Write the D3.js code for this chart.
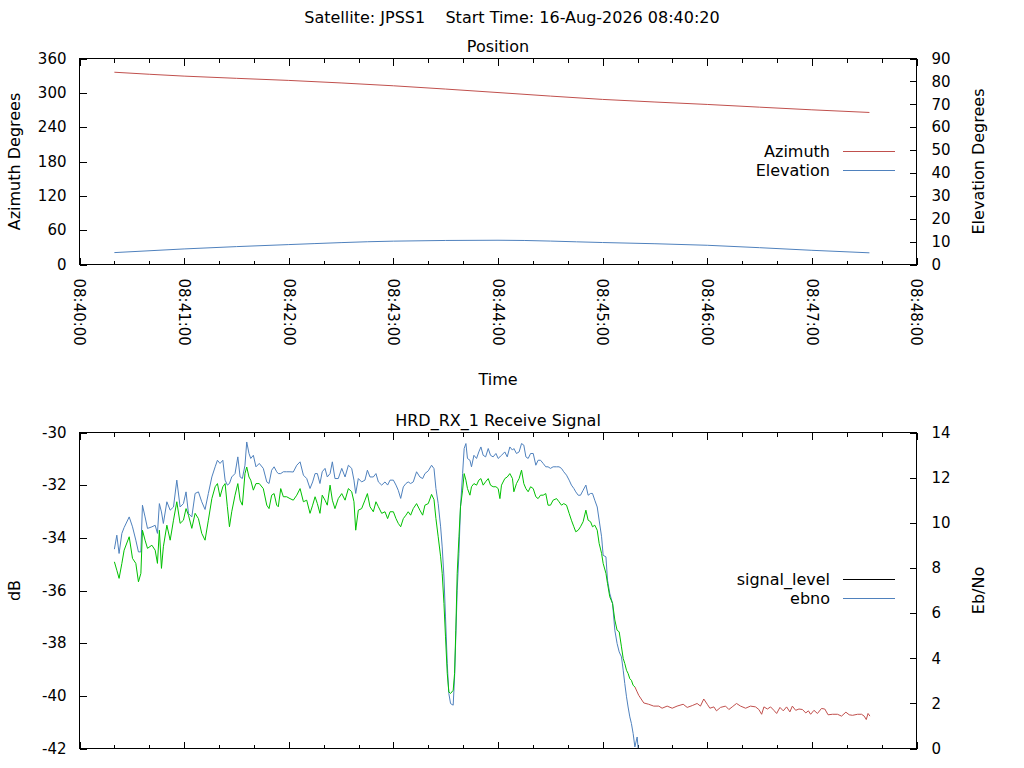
<!DOCTYPE html>
<html>
<head>
<meta charset="utf-8">
<script src="https://cdn.jsdelivr.net/npm/d3@7"></script>
<style>
  body { margin: 0; background: #fff; }
  svg { display: block; }
  text { font-family: "DejaVu Sans", sans-serif; font-size: 16px; fill: #000; }
  .axis path.domain { display: none; }
  .axis line { stroke: #000; shape-rendering: crispEdges; }
</style>
</head>
<body>
<div id="chart"></div>
<script>

// pass info
const satellite = "JPSS1";
const startLabel = "16-Aug-2026 08:40:20";
const axisStart = new Date(2026, 7, 16, 8, 40, 0);
const axisEnd = new Date(2026, 7, 16, 8, 48, 0);

// position plot, seconds after 08:40:00
const posSec = [20, 60, 120, 180, 240, 300, 360, 420, 453];
const azimuthDeg = [336, 329.2, 321.7, 312.3, 300.5, 288.5, 279.7, 270.3, 265.7];
const elevationDeg = [5.2, 6.8, 8.7, 10.2, 10.6, 9.6, 8.4, 6.2, 5.1];

// receive signal, seconds after 08:40:00
const rxSec = [
  20, 21.4, 22.7, 24.3, 25.6, 28.5, 30.4, 32.3, 33.8, 35.2,
  36.1, 37.6, 39.0, 41.5, 43.4, 44.7, 45.8, 47.0, 48.1, 50.1,
  52.0, 53.9, 55.8, 57.7, 59.6, 61.1, 62.5, 64.4, 66.3, 68.2,
  70.1, 72.0, 73.9, 75.9, 77.8, 79.1, 80.6, 82.2, 83.5, 84.8,
  86.0, 87.3, 89.2, 90.8, 92.1, 93.4, 94.9, 95.9, 97.2, 98.2,
  99.7, 101.2, 103.1, 105.4, 107.4, 108.7, 110.2, 111.6, 113.1, 114.0,
  115.4, 116.9, 118.8, 120.7, 122.6, 124.6, 126.5, 128.4, 130.3, 132.2,
  133.7, 135.1, 136.4, 137.9, 139.2, 140.8, 142.1, 143.7, 145.0, 146.5,
  148.4, 150.4, 152.3, 154.2, 156.1, 157.4, 158.4, 159.9, 161.8, 163.7,
  165.1, 166.6, 168.5, 170.0, 171.4, 173.3, 175.2, 176.7, 178.1, 180.0,
  181.5, 182.8, 184.2, 185.7, 187.2, 188.5, 189.9, 191.4, 193.3, 195.2,
  196.8, 198.1, 200.0, 201.9, 203.3, 204.4, 205.7, 207.1, 208.0, 209.0,
  209.9, 210.9, 211.8, 212.8, 214.3, 215.1, 215.8, 216.6, 217.6, 218.5,
  219.7, 220.6, 221.6, 222.5, 223.9, 224.8, 226.2, 227.7, 229.0, 230.2,
  231.5, 232.9, 234.4, 235.7, 237.2, 238.8, 240.1, 241.1, 242.0, 243.9,
  245.3, 246.8, 248.3, 249.1, 250.6, 252.1, 253.5, 254.8, 256.0, 257.3,
  258.7, 260.2, 261.7, 263.0, 264.4, 265.9, 267.4, 268.7, 270.1, 271.6,
  273.6, 275.0, 276.4, 277.7, 279.3, 280.8, 282.1, 283.5, 284.6, 286.0,
  287.3, 288.8, 290.4, 291.7, 293.1, 294.2, 295.5, 296.9, 298.0, 299.4,
  300.3, 301.9, 302.8, 304.1, 305.7, 307.0, 308.3, 309.5, 310.8, 311.8,
  312.7, 313.7, 314.6, 315.6, 316.5, 317.5, 318.5, 319.8, 320.7,
  323.6, 326.4, 329.3, 332.2, 334.1, 337.0, 339.9, 342.7, 346.2, 348.5,
  351.4, 354.2, 356.1, 358.0, 360.0, 361.5, 363.8, 365.3, 367.6, 370.5,
  372.4, 374.3, 376.8, 379.1, 382.0, 384.8, 387.7, 389.6, 391.2, 392.5,
  394.5, 396.3, 398.2, 399.8, 401.7, 403.6, 405.5, 407.4, 408.8, 410.7,
  412.6, 414.6, 416.5, 418.0, 419.3, 421.2, 423.2, 425.5, 427.4, 429.3,
  431.8, 434.7, 437.0, 439.5, 441.4, 443.3, 446.2, 448.5, 450.0, 451.2,
  452.2, 453.3
];
const signalDb = [
  -34.91, -35.23, -35.54, -34.97, -34.47, -33.96, -34.78, -34.97, -35.67, -35.35,
  -33.71, -34.09, -34.40, -34.28, -34.47, -34.97, -33.71, -35.16, -34.34, -33.52,
  -34.09, -33.33, -32.63, -33.45, -33.33, -32.89, -33.14, -33.64, -33.07, -33.27,
  -33.83, -34.09, -33.33, -32.51, -32.06, -31.94, -32.44, -32.06, -31.94, -32.82,
  -33.58, -33.01, -32.38, -31.94, -32.57, -32.76, -31.56, -31.31, -31.69, -31.81,
  -32.19, -31.94, -31.94, -32.13, -32.76, -32.89, -32.38, -32.32, -32.76, -32.82,
  -32.13, -32.44, -32.44, -32.51, -32.57, -32.38, -32.13, -32.63, -32.57, -33.07,
  -32.76, -32.44, -32.70, -33.07, -32.38, -32.57, -32.76, -32.00, -32.57, -32.89,
  -32.51, -32.32, -32.57, -32.13, -32.25, -32.63, -33.71, -32.95, -32.89, -32.57,
  -32.32, -32.82, -33.01, -32.63, -32.82, -33.07, -33.01, -33.27, -33.01, -33.01,
  -33.27, -33.45, -33.58, -33.27, -33.14, -33.01, -33.14, -32.89, -32.70, -32.95,
  -33.14, -32.76, -32.70, -32.35, -32.55, -33.27, -33.96, -34.72, -35.35, -36.49,
  -37.76, -39.15, -39.85, -39.91, -39.79, -39.15, -37.51, -35.35, -33.96, -32.82,
  -32.19, -31.56, -31.81, -32.13, -32.38, -32.06, -31.94, -32.00, -31.81, -31.75,
  -32.00, -31.87, -31.75, -32.00, -32.06, -32.06, -32.13, -32.51, -32.00, -31.75,
  -31.69, -31.56, -31.75, -32.25, -31.94, -31.75, -31.43, -31.94, -32.13, -32.25,
  -32.06, -32.13, -32.44, -32.51, -32.38, -32.38, -32.32, -32.76, -32.76, -32.57,
  -32.51, -32.63, -32.76, -32.70, -32.76, -33.07, -33.33, -33.58, -33.77, -33.71,
  -33.58, -33.39, -32.95, -33.33, -33.39, -33.58, -33.52, -33.71, -34.21, -34.59,
  -34.97, -35.35, -35.73, -36.24, -36.49, -37.12, -37.51, -37.57, -38.14, -38.58,
  -38.77, -39.03, -39.15, -39.35, -39.41, -39.60, -39.66, -39.85, -39.98,
  -40.27, -40.32, -40.39, -40.39, -40.47, -40.39, -40.47, -40.39, -40.32, -40.44,
  -40.37, -40.29, -40.39, -40.12, -40.32, -40.47, -40.42, -40.57, -40.44, -40.39,
  -40.52, -40.42, -40.29, -40.39, -40.47, -40.39, -40.42, -40.52, -40.70, -40.42,
  -40.50, -40.42, -40.55, -40.67, -40.44, -40.57, -40.42, -40.61, -40.39, -40.55,
  -40.50, -40.52, -40.65, -40.57, -40.70, -40.55, -40.67, -40.48, -40.50, -40.72,
  -40.70, -40.70, -40.77, -40.62, -40.72, -40.74, -40.70, -40.70, -40.77, -40.90,
  -40.67, -40.77
];
// ebno only exists while the receiver is locked (first part of rxSec)
const ebno = [
  8.83, 9.45, 8.64, 9.53, 9.79, 10.26, 9.82, 9.23, 8.71, 8.71,
  10.78, 10.26, 9.75, 9.82, 9.89, 9.53, 10.85, 10.48, 9.97, 10.93,
  10.56, 10.70, 11.89, 10.70, 10.85, 11.37, 10.41, 10.26, 11.30, 11.37,
  10.93, 10.59, 11.30, 12.03, 12.48, 12.77, 12.63, 12.77, 11.89, 11.67,
  11.74, 12.03, 12.18, 12.92, 12.03, 11.96, 12.55, 13.58, 13.07, 12.85,
  12.99, 12.48, 12.63, 12.41, 11.81, 11.74, 12.33, 12.48, 12.26, 12.18,
  12.18, 12.26, 12.26, 12.26, 12.25, 12.55, 12.70, 12.11, 11.96, 11.52,
  11.81, 12.18, 12.18, 11.74, 12.26, 12.41, 12.03, 12.18, 12.70, 11.96,
  11.96, 12.41, 12.03, 12.55, 12.41, 11.89, 11.30, 11.96, 11.81, 11.89,
  12.33, 12.03, 12.03, 12.18, 11.81, 11.67, 11.81, 11.67, 11.89, 11.89,
  11.67, 11.44, 11.08, 11.59, 11.74, 11.81, 11.74, 11.81, 12.26, 12.03,
  11.96, 12.18, 12.30, 12.55, 12.40, 11.52, 10.85, 9.82, 8.93, 7.60,
  5.83, 3.77, 2.44, 1.99, 1.92, 3.17, 4.94, 7.01, 8.64, 10.70,
  12.18, 13.29, 13.51, 12.85, 12.77, 12.48, 12.99, 12.85, 13.14, 13.36,
  12.99, 12.92, 13.29, 12.99, 12.92, 13.07, 12.85, 12.92, 12.99, 13.14,
  12.92, 13.36, 13.22, 13.29, 13.07, 13.14, 13.51, 13.44, 12.92, 12.85,
  13.07, 13.07, 12.55, 12.77, 12.77, 12.63, 12.48, 12.48, 12.41, 12.48,
  12.48, 12.48, 12.41, 12.26, 12.11, 11.89, 11.67, 11.52, 11.37, 11.22,
  11.22, 11.44, 11.67, 11.22, 11.30, 11.30, 11.00, 10.70, 10.12, 9.38,
  8.56, 8.49, 7.46, 6.87, 6.42, 5.24, 4.65, 4.28, 4.06, 3.47,
  2.88, 2.29, 1.84, 1.40, 1.11, 0.66, 0.07, 0.51, -0.3
];
const lockLostSec = 319;

const azTicks = [0, 60, 120, 180, 240, 300, 360];
const elTicks = [0, 10, 20, 30, 40, 50, 60, 70, 80, 90];
const dbTicks = [-42, -40, -38, -36, -34, -32, -30];
const ebnoTicks = [0, 2, 4, 6, 8, 10, 12, 14];

const colors = {az: "#c0504d", el: "#4f81bd", lock: "#00c000", loss: "#c0504d", ebno: "#4f81bd"};

const width = 1024, height = 768;
const left = 79.5, right = 916.5;
const top1 = 58.5, bottom1 = 264.5;
const top2 = 432.5, bottom2 = 748.5;

const svg = d3.select("#chart").append("svg")
  .attr("width", width)
  .attr("height", height);

svg.append("rect").attr("width", width).attr("height", height).attr("fill", "#fff");

const toDate = s => new Date(axisStart.getTime() + s * 1000);
const plain = d => String(d);   // gnuplot uses a plain hyphen for negatives

const x = d3.scaleTime().domain([axisStart, axisEnd]).range([left, right]);
const yAz = d3.scaleLinear().domain([0, 360]).range([bottom1, top1]);
const yEl = d3.scaleLinear().domain([0, 90]).range([bottom1, top1]);
const yDb = d3.scaleLinear().domain([-42, -30]).range([bottom2, top2]);
const yEb = d3.scaleLinear().domain([0, 14]).range([bottom2, top2]);

// clip regions
const defs = svg.append("defs");
defs.append("clipPath").attr("id", "clip1").append("rect")
  .attr("x", left).attr("y", top1).attr("width", right - left).attr("height", bottom1 - top1);
defs.append("clipPath").attr("id", "clip2").append("rect")
  .attr("x", left).attr("y", top2).attr("width", right - left).attr("height", bottom2 - top2);

// titles
svg.append("text").attr("x", 512).attr("y", 23).attr("text-anchor", "middle")
  .attr("xml:space", "preserve")
  .text("Satellite: " + satellite + "    Start Time: " + startLabel);
svg.append("text").attr("x", (left + right) / 2).attr("y", 52).attr("text-anchor", "middle").text("Position");
svg.append("text").attr("x", (left + right) / 2).attr("y", 426).attr("text-anchor", "middle").text("HRD_RX_1 Receive Signal");

function timeTicks(top, bottom) {
  const minor = d3.timeSecond.every(20), major = d3.timeMinute.every(1);
  svg.append("g").attr("class", "axis").attr("transform", `translate(0,${bottom})`)
    .call(d3.axisBottom(x).ticks(minor).tickSize(-4).tickFormat(""));
  svg.append("g").attr("class", "axis").attr("transform", `translate(0,${top})`)
    .call(d3.axisTop(x).ticks(minor).tickSize(-4).tickFormat(""));
  svg.append("g").attr("class", "axis").attr("transform", `translate(0,${bottom})`)
    .call(d3.axisBottom(x).ticks(major).tickSize(-7).tickFormat(""));
  svg.append("g").attr("class", "axis").attr("transform", `translate(0,${top})`)
    .call(d3.axisTop(x).ticks(major).tickSize(-7).tickFormat(""));
}

function yAxes(yl, ticksL, yr, ticksR) {
  svg.append("g").attr("class", "axis").attr("transform", `translate(${left},0)`)
    .call(d3.axisLeft(yl).tickValues(ticksL).tickFormat(plain).tickSize(-7).tickPadding(13))
    .selectAll("text").style("font-size", "15px").style("font-family", "DejaVu Sans");
  svg.append("g").attr("class", "axis").attr("transform", `translate(${right},0)`)
    .call(d3.axisRight(yr).tickValues(ticksR).tickFormat(plain).tickSize(-7).tickPadding(15))
    .selectAll("text").style("font-size", "15px").style("font-family", "DejaVu Sans");
}

function frame(top, bottom) {
  svg.append("rect").attr("x", left).attr("y", top)
    .attr("width", right - left).attr("height", bottom - top)
    .attr("fill", "none").attr("stroke", "#000").attr("shape-rendering", "crispEdges");
}

function vlabel(txt, cx, cy) {
  svg.append("text").attr("transform", `translate(${cx},${cy}) rotate(-90)`)
    .attr("text-anchor", "middle").attr("dy", "0.35em").text(txt);
}

function legendRow(txt, color, y) {
  svg.append("text").attr("x", 830).attr("y", y).attr("dy", "0.35em")
    .attr("text-anchor", "end").text(txt);
  svg.append("line").attr("x1", 843).attr("x2", 895).attr("y1", y).attr("y2", y)
    .attr("stroke", color).attr("shape-rendering", "crispEdges");
}

// ---------- Position plot ----------
timeTicks(top1, bottom1);
yAxes(yAz, azTicks, yEl, elTicks);

const posLayer = svg.append("g").attr("clip-path", "url(#clip1)");
const azLine = d3.line().x((d, i) => x(toDate(posSec[i]))).y(d => yAz(d)).curve(d3.curveMonotoneX);
const elLine = d3.line().x((d, i) => x(toDate(posSec[i]))).y(d => yEl(d)).curve(d3.curveMonotoneX);
posLayer.append("path").datum(azimuthDeg).attr("d", azLine)
  .attr("fill", "none").attr("stroke", colors.az).attr("stroke-width", 1);
posLayer.append("path").datum(elevationDeg).attr("d", elLine)
  .attr("fill", "none").attr("stroke", colors.el).attr("stroke-width", 1);

frame(top1, bottom1);

// rotated time labels under the position plot
svg.append("g").selectAll("text")
  .data(x.ticks(d3.timeMinute.every(1)))
  .join("text")
  .attr("transform", d => `translate(${x(d)},${bottom1 + 14}) rotate(90)`)
  .attr("dy", "0.35em")
  .attr("text-anchor", "start")
  .style("font-size", "15px")
  .text(d3.timeFormat("%H:%M:%S"));

svg.append("text").attr("x", (left + right) / 2).attr("y", 385).attr("text-anchor", "middle").text("Time");
vlabel("Azimuth Degrees", 14, (top1 + bottom1) / 2);
vlabel("Elevation Degrees", 978, (top1 + bottom1) / 2);

legendRow("Azimuth", colors.az, 151);
legendRow("Elevation", colors.el, 170);

// ---------- Receive signal plot ----------
timeTicks(top2, bottom2);
yAxes(yDb, dbTicks, yEb, ebnoTicks);

const rxLayer = svg.append("g").attr("clip-path", "url(#clip2)");

const ebLine = d3.line().x((d, i) => x(toDate(rxSec[i]))).y(d => yEb(d));
rxLayer.append("path").datum(ebno).attr("d", ebLine)
  .attr("fill", "none").attr("stroke", colors.ebno).attr("stroke-width", 1);

// signal level: green while locked, red after lock is lost
const sigPts = rxSec.map((s, i) => ({t: s, v: signalDb[i]}));
const lastLock = d3.max(sigPts.filter(p => p.t <= lockLostSec), p => p.t);
const lockPts = sigPts.filter(p => p.t <= lockLostSec);
const lossPts = sigPts.filter(p => p.t >= lastLock);
const sigLine = d3.line().x(p => x(toDate(p.t))).y(p => yDb(p.v));
rxLayer.append("path").datum(lossPts).attr("d", sigLine)
  .attr("fill", "none").attr("stroke", colors.loss).attr("stroke-width", 1);
rxLayer.append("path").datum(lockPts).attr("d", sigLine)
  .attr("fill", "none").attr("stroke", colors.lock).attr("stroke-width", 1);

frame(top2, bottom2);

vlabel("dB", 14, (top2 + bottom2) / 2);
vlabel("Eb/No", 978, (top2 + bottom2) / 2);

legendRow("signal_level", "#000", 579);
legendRow("ebno", colors.ebno, 598);

</script>
</body>
</html>
